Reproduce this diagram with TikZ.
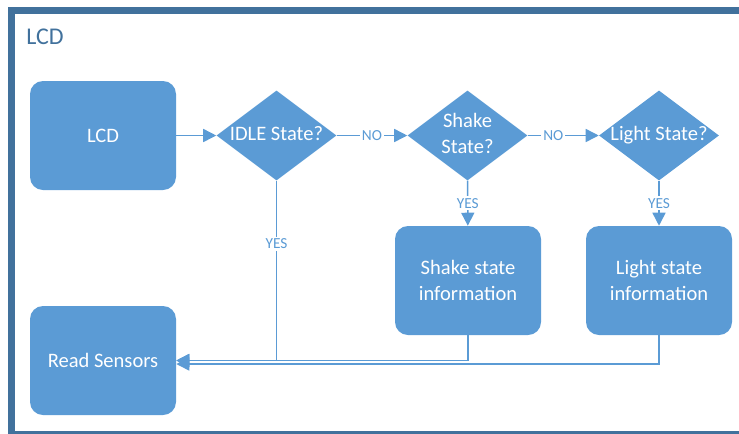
\documentclass[tikz,border=0pt]{standalone}
\usepackage{fontspec}
\setmainfont{Carlito}
\usetikzlibrary{shapes.geometric,arrows.meta,calc}

\newlength{\du}
\setlength{\du}{0.75pt}

\definecolor{boxcolor}{HTML}{5B9BD5}
\definecolor{framecolor}{HTML}{41719C}
\definecolor{linkcolor}{HTML}{5B9BD5}

% centred text of zero width, so the diamond keeps its own size
\newcommand{\dtext}[1]{\makebox[0pt]{\begin{tabular}{@{}c@{}}#1\end{tabular}}}

\tikzset{
  procbox/.style={fill=boxcolor, rounded corners=13\du, minimum width=146\du,
    minimum height=109\du, text=white, align=center,
    font=\fontsize{15.4}{19}\selectfont},
  decision/.style={diamond, fill=boxcolor, inner sep=0pt, minimum width=120\du,
    minimum height=90\du, text=white, font=\fontsize{15.4}{19.5}\selectfont},
  flow/.style={draw=linkcolor, line width=1.5\du,
    -{Triangle[length=9.75pt,width=9.75pt]}},
  answer/.style={fill=white, text=linkcolor, inner sep=1.5pt,
    font=\fontsize{11.5}{13}\selectfont},
  framebox/.style={draw=framecolor, line width=6.5\du}
}

\begin{document}
\begin{tikzpicture}[x=1\du,y=-1\du]
\path[use as bounding box] (0,0) rectangle (739,433);
\clip (0,0) rectangle (739,433);

% outer frame, open to the right
\draw[framebox] (739,10.5) -- (11.5,10.5) -- (11.5,434) -- (739,434);
\node[anchor=base west, text=framecolor, inner sep=0pt,
  font=\fontsize{18}{21}\selectfont] (title) at (26,44.5) {LCD};

% process boxes
\node[procbox] (lcd) at (103,135.5) {LCD};
\node[procbox] (read) at (103,360.5) {Read Sensors};
\node[procbox] (shakeinfo) at (468,280.5) {Shake state\\information};
\node[procbox] (lightinfo) at (659,280.5) {Light state\\information};

% decisions
\node[decision] (idle) at (276.5,135.5) {\dtext{IDLE State?}};
\node[decision] (shake) at (467.5,135.5) {\dtext{Shake\\State?}};
\node[decision] (light) at (659,135.5) {\dtext{Light State?}};

% connectors
\draw[flow] (lcd) -- (idle);
\draw[flow] (idle) -- node[answer] {NO} (shake);
\draw[flow] (shake) -- node[answer, pos=0.36] {NO} (light);
\draw[flow] (shake) -- node[answer] {YES} (shakeinfo);
\draw[flow] (light) -- node[answer] {YES} (lightinfo);
\draw[flow] (idle.south) |- node[answer, pos=0.175] {YES} (read.east);
\draw[flow] (shakeinfo.south) |- (read.east);
\draw[flow] (lightinfo.south) |- ($(read.east)+(0,3.5)$);
\end{tikzpicture}
\end{document}
